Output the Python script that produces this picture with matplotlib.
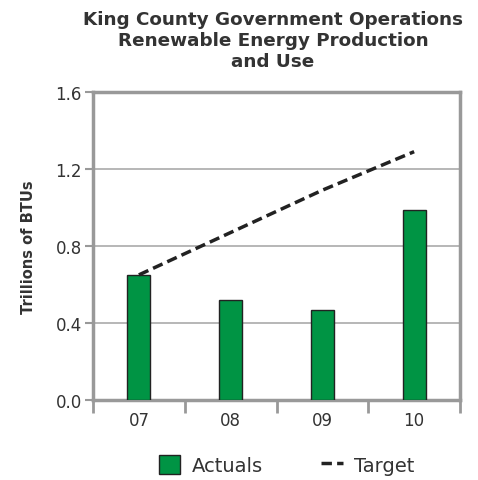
import matplotlib
matplotlib.use("Agg")
import matplotlib.pyplot as plt
import numpy as np

years = ["07", "08", "09", "10"]
actuals = [0.65, 0.52, 0.465, 0.985]
target = [0.65, 0.87, 1.09, 1.29]
yticks = [0.0, 0.4, 0.8, 1.2, 1.6]

plt.rcParams['font.family'] = ['DejaVu Sans']

fig = plt.figure(figsize=(4.78, 4.81), dpi=100)
ax = fig.add_axes([93 / 478, 1 - 401 / 481, 367 / 478, 308 / 481])

x = np.arange(len(years))
bars = ax.bar(x, actuals, width=0.25, color="#009444", edgecolor="#222222",
              linewidth=1, label="Actuals", zorder=3)
line, = ax.plot(x, target, color="#222222", linestyle=(0, (3, 1.5)), linewidth=2.5,
                label="Target", zorder=4)

ax.set_xlim(-0.5, len(years) - 0.5)
ax.set_ylim(0, 1.6)
ax.set_yticks(yticks)
ax.set_yticklabels(["%.1f" % v for v in yticks], fontsize=12, color="#333333")
ax.set_xticks(x)
ax.set_xticklabels(years, fontsize=12, color="#333333")
ax.tick_params(axis="x", length=0, pad=8)
ax.set_xticks(np.arange(len(years) + 1) - 0.5, minor=True)
ax.tick_params(axis="x", which="minor", length=9, width=2, color="#999999", direction="out")
ax.tick_params(axis="y", length=6, width=1.5, color="#999999", direction="out", pad=2)

ax.grid(axis="y", color="#aaaaaa", linewidth=1.2, zorder=0)
for s in ax.spines.values():
    s.set_color("#999999")
    s.set_linewidth(2.5)

ax.set_ylabel("Trillions of BTUs", fontsize=10.5, fontweight="bold", color="#333333", labelpad=14)
fig.text(0.571, 0.977, "King County Government Operations\nRenewable Energy Production\nand Use",
         ha="center", va="top", fontsize=13.2, fontweight="bold", color="#333333", linespacing=1.2)

fig.legend([bars, line], ["Actuals", "Target"], loc="center", bbox_to_anchor=(0.6, 0.031),
           ncol=2, frameon=False, fontsize=14, handlelength=1.1, handleheight=1.1,
           handletextpad=0.6, columnspacing=3, labelcolor="#333333")

fig.savefig("out.png", dpi=100)
